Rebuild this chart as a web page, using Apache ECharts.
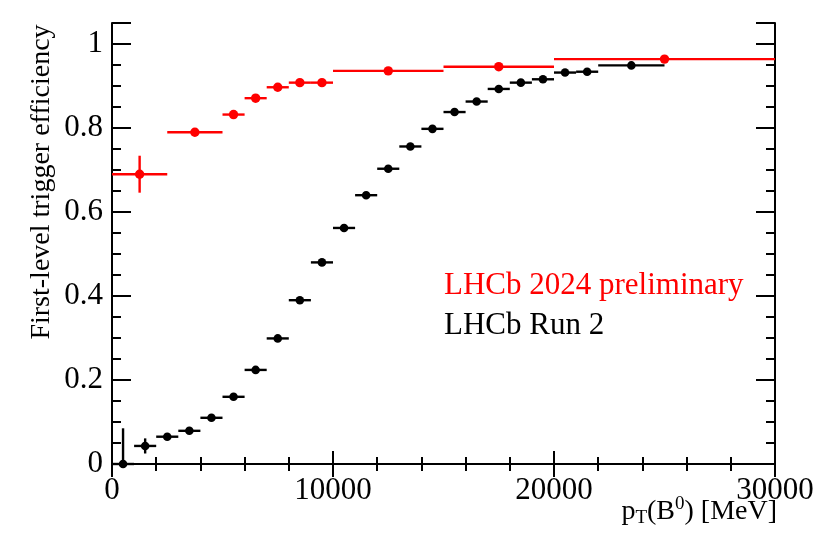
<!DOCTYPE html>
<html><head><meta charset="utf-8">
<script src="https://cdn.jsdelivr.net/npm/echarts@6/dist/echarts.min.js"></script>
<style>html,body{margin:0;padding:0;background:#fff}#c{width:831px;height:542px}</style>
</head><body><div id="c"></div>
<script>
// LHCb 2024 preliminary (red)
const redX   = [1250, 3750, 5500, 6500, 7500, 8500, 9500, 12500, 17500, 25000];
const redXLo = [0, 2500, 5000, 6000, 7000, 8000, 9000, 10000, 15000, 20000];
const redXHi = [2500, 5000, 6000, 7000, 8000, 9000, 10000, 15000, 20000, 30000];
const redY   = [0.690, 0.790, 0.832, 0.871, 0.897, 0.908, 0.908, 0.936, 0.946, 0.964];
const redErr = [0.044, 0.004, 0.004, 0.004, 0.004, 0.003, 0.003, 0.003, 0.003, 0.003];
// LHCb Run 2 (black)
const blkX   = [500, 1500, 2500, 3500, 4500, 5500, 6500, 7500, 8500, 9500, 10500, 11500, 12500, 13500, 14500, 15500, 16500, 17500, 18500, 19500, 20500, 21500, 23500];
const blkXLo = [0, 1000, 2000, 3000, 4000, 5000, 6000, 7000, 8000, 9000, 10000, 11000, 12000, 13000, 14000, 15000, 16000, 17000, 18000, 19000, 20000, 21000, 22000];
const blkXHi = [1000, 2000, 3000, 4000, 5000, 6000, 7000, 8000, 9000, 10000, 11000, 12000, 13000, 14000, 15000, 16000, 17000, 18000, 19000, 20000, 21000, 22000, 25000];
const blkY   = [0.000, 0.043, 0.065, 0.079, 0.110, 0.160, 0.224, 0.299, 0.390, 0.480, 0.562, 0.640, 0.703, 0.756, 0.798, 0.838, 0.863, 0.893, 0.908, 0.916, 0.932, 0.934, 0.949];
const blkErrUp = [0.085, 0.018, 0.006, 0.005, 0.005, 0.005, 0.005, 0.004, 0.004, 0.004, 0.004, 0.004, 0.004, 0.004, 0.003, 0.003, 0.003, 0.003, 0.003, 0.003, 0.003, 0.003, 0.003];
const blkErrDn = [0.000, 0.018, 0.006, 0.005, 0.005, 0.005, 0.005, 0.004, 0.004, 0.004, 0.004, 0.004, 0.004, 0.004, 0.003, 0.003, 0.003, 0.003, 0.003, 0.003, 0.003, 0.003, 0.003];
const xTicks = [0, 10000, 20000, 30000];
const yTickLabels = ['0', '0.2', '0.4', '0.6', '0.8', '1'];

const FONT = '"Liberation Serif", "DejaVu Serif", serif';

function mk(xs, lo, hi, ys, eu, ed) {
  return xs.map((x, i) => [x, lo[i], hi[i], ys[i], ys[i] - ed[i], ys[i] + eu[i]]);
}
function renderer(color, r) {
  return function (params, api) {
    const c = api.coord([api.value(0), api.value(3)]);
    const l = api.coord([api.value(1), api.value(3)]);
    const h = api.coord([api.value(2), api.value(3)]);
    const b = api.coord([api.value(0), api.value(4)]);
    const t = api.coord([api.value(0), api.value(5)]);
    const st = {stroke: color, lineWidth: 2.4};
    return {type: 'group', children: [
      {type: 'line', shape: {x1: l[0], y1: l[1], x2: h[0], y2: h[1]}, style: st},
      {type: 'line', shape: {x1: b[0], y1: b[1], x2: t[0], y2: t[1]}, style: st},
      {type: 'circle', shape: {cx: c[0], cy: c[1], r: r}, style: {fill: color}}
    ]};
  };
}
const axLine = {show: true, lineStyle: {color: '#000', width: 2}};
const yMajor = {
  min: 0, max: 1.05, interval: 0.2,
  axisLine: axLine,
  axisTick: {show: true, inside: true, length: 19, lineStyle: {color: '#000', width: 2}},
  splitLine: {show: false}
};
const yMinor = {
  min: 0, max: 1.05, interval: 0.05,
  axisLine: {show: false}, axisLabel: {show: false},
  axisTick: {show: true, inside: true, length: 9, lineStyle: {color: '#000', width: 2}},
  splitLine: {show: false}
};
const xBase = {
  type: 'value', min: 0, max: 30000, interval: 10000,
  axisLine: axLine,
  axisTick: {show: true, inside: true, length: 13, lineStyle: {color: '#000', width: 2}},
  minorTick: {show: true, splitNumber: 5, length: 7, lineStyle: {color: '#000', width: 2}},
  splitLine: {show: false}
};

const chart = echarts.init(document.getElementById('c'), null, {renderer: 'canvas'});
chart.setOption({
  animation: false,
  backgroundColor: '#fff',
  grid: {left: 112, right: 56, top: 23, bottom: 78, show: false, containLabel: false, outerBoundsMode: 'none'},
  xAxis: [
    Object.assign({}, xBase, {
      position: 'bottom',
      axisLabel: {show: true, margin: 11, fontFamily: FONT, fontSize: 31, color: '#000',
        formatter: v => xTicks.includes(v) ? String(v) : ''}
    }),
    Object.assign({}, xBase, {position: 'top', axisLabel: {show: false}})
  ],
  yAxis: [
    Object.assign({type: 'value', position: 'left'}, yMajor, {
      axisLabel: {show: true, margin: 9, fontFamily: FONT, fontSize: 31, color: '#000',
        formatter: v => { const s = String(Math.round(v * 10) / 10); return yTickLabels.includes(s) && Math.abs(v * 5 - Math.round(v * 5)) < 1e-6 ? s : ''; }}
    }),
    Object.assign({type: 'value', position: 'left'}, yMinor),
    Object.assign({type: 'value', position: 'right'}, yMajor, {axisLabel: {show: false}}),
    Object.assign({type: 'value', position: 'right'}, yMinor)
  ],
  series: [
    {type: 'custom', name: 'LHCb Run 2', xAxisIndex: 0, yAxisIndex: 0, clip: false,
     renderItem: renderer('#000', 4.3), encode: {x: 0, y: 3},
     data: mk(blkX, blkXLo, blkXHi, blkY, blkErrUp, blkErrDn), z: 3},
    {type: 'custom', name: 'LHCb 2024 preliminary', xAxisIndex: 0, yAxisIndex: 0, clip: false,
     renderItem: renderer('#ff0000', 4.7), encode: {x: 0, y: 3},
     data: mk(redX, redXLo, redXHi, redY, redErr, redErr), z: 4}
  ],
  graphic: [
    {type: 'text', left: 444, top: 270, style: {text: 'LHCb 2024 preliminary', fontFamily: FONT, fontSize: 31, fill: '#ff0000'}},
    {type: 'text', left: 444, top: 310, style: {text: 'LHCb Run 2', fontFamily: FONT, fontSize: 31, fill: '#000'}},
    {type: 'text', x: 42, y: 182, rotation: Math.PI / 2, style: {
      text: 'First-level trigger efficiency', fontFamily: FONT, fontSize: 28, fill: '#000',
      align: 'center', verticalAlign: 'middle'}},
    {type: 'text', x: 777, y: 495, style: {
      text: '{p|p}{sub|T}{p|(B}{sup|0}{p|) [MeV]}', align: 'right', verticalAlign: 'top',
      rich: {
        p: {fontFamily: FONT, fontSize: 28, fill: '#000', color: '#000'},
        sub: {fontFamily: FONT, fontSize: 19, fill: '#000', color: '#000', verticalAlign: 'bottom', padding: [14, 0, 0, 0]},
        sup: {fontFamily: FONT, fontSize: 19, fill: '#000', color: '#000', verticalAlign: 'top', padding: [0, 0, 10, 0]}
      }
    }}
  ]
});
</script></body></html>
